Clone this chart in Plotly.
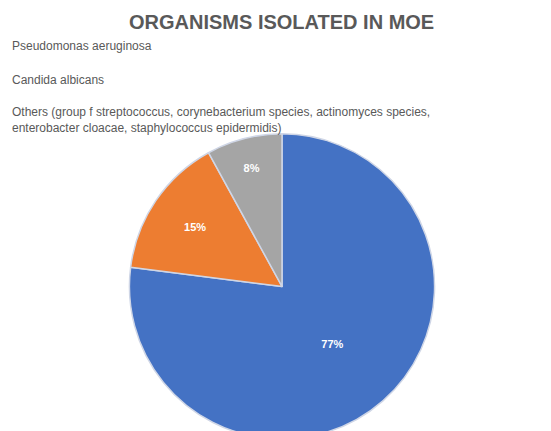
import plotly.graph_objects as go

labels = ["Pseudomonas aeruginosa", "Candida albicans",
          "Others (group f streptococcus, corynebacterium species, actinomyces species,<br>enterobacter cloacae, staphylococcus epidermidis)"]
values = [77, 15, 8]
colors = ["#4472C4", "#ED7D31", "#A5A5A5"]

fig = go.Figure(go.Pie(
    labels=labels, values=values, sort=False, direction="clockwise", rotation=0,
    marker=dict(colors=colors, line=dict(color="#cfd6e6", width=1.5)),
    texttemplate="<b>%{percent:.0%}</b>", textposition="inside", insidetextorientation="horizontal",
    textfont=dict(color="white", size=11, family="Liberation Sans"),
    domain=dict(x=[108/551, 440/551], y=[0.0, 0.708]),
    showlegend=False, hoverinfo="skip"))

fig.add_annotation(text="<b>ORGANISMS ISOLATED IN MOE</b>", xref="paper", yref="paper",
                   x=0.497, y=0.998, xanchor="center", yanchor="top", showarrow=False,
                   font=dict(size=20, color="#595959", family="Liberation Sans"))
ys = [38, 72, 112]
for lab, y in zip(labels, ys):
    fig.add_annotation(text=lab, xref="paper", yref="paper", x=0.004, y=1 - y/431,
                       xanchor="left", yanchor="middle", showarrow=False, align="left",
                       font=dict(size=12, color="#595959", family="Liberation Sans"))

fig.update_layout(width=551, height=431, margin=dict(l=0, r=0, t=0, b=0),
                  paper_bgcolor="white", plot_bgcolor="white")
fig.write_html("out.html")
